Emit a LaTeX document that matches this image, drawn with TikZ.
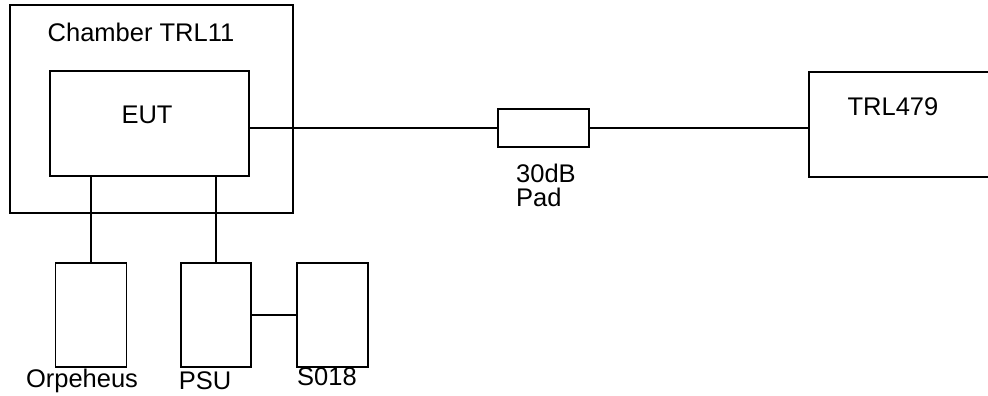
\documentclass[tikz,border=0pt]{standalone}
\usepackage{fontspec}
\setmainfont{Liberation Sans}
\begin{document}
\begin{tikzpicture}[x=1pt,y=-1pt,
  box/.style={draw,line width=1.4pt,inner sep=0pt,minimum width=#1},
  lbl/.style={inner sep=0pt,anchor=base,font=\fontsize{25.5}{25.5}\selectfont},
  wire/.style={line width=1.4pt}]
\clip (0,0) rectangle (988,396);
\fill[white] (0,0) rectangle (988,396);
% boxes
\node[box=283pt,minimum height=208pt] (chamber) at (151.5,109) {};
\node[box=199pt,minimum height=105pt] (eut) at (149.5,123.5) {};
\node[box=91pt,minimum height=38pt] (pad) at (543.5,128) {};
\node[box=260pt,minimum height=105pt] (trl) at (939,124.5) {};
\node[box=71pt,minimum height=104pt] (orp) at (91,315) {};
\node[box=70pt,minimum height=104pt] (psu) at (216,315) {};
\node[box=71pt,minimum height=104pt] (s018) at (332.5,315) {};
% labels
\node[lbl] (lchamber) at (141,42) {Chamber TRL11};
\node[lbl] (leut) at (147,123) {EUT};
\node[lbl] (ltrl) at (893,115) {TRL479};
\node[lbl,anchor=base west] (lpad1) at (516,182) {30dB};
\node[lbl,anchor=base west] (lpad2) at (516,206) {Pad};
\node[lbl] (lorp) at (82,387) {Orpeheus};
\node[lbl] (lpsu) at (205,389) {PSU};
\node[lbl] (ls018) at (327,385) {S018};
% connectors
\draw[wire] (eut.east |- pad.west) -- (pad.west);
\draw[wire] (pad.east) -- (trl.west |- pad.east);
\draw[wire] (orp.north) -- (orp.north |- eut.south);
\draw[wire] (psu.north) -- (psu.north |- eut.south);
\draw[wire] (psu.east) -- (s018.west);
\end{tikzpicture}
\end{document}
